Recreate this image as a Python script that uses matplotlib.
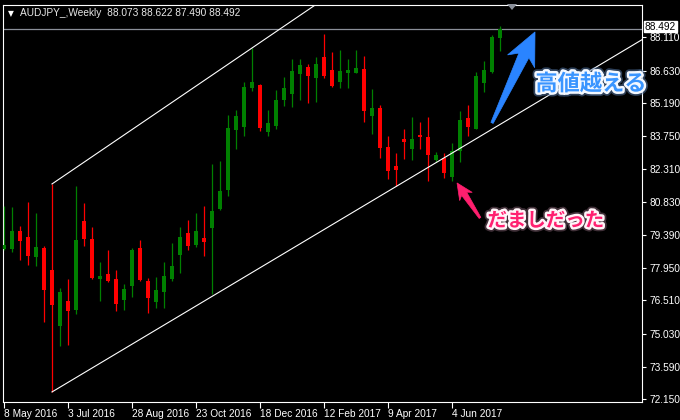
import matplotlib
matplotlib.use('Agg')
import matplotlib.pyplot as plt
import matplotlib.patheffects as pe
import matplotlib.transforms as mtransforms
from matplotlib.patches import Polygon
import numpy as np

# ---------------- data (weekly AUDJPY candles) ----------------
opens = [78.78, 78.78, 79.57, 79.31, 78.42, 78.82, 77.85, 75.38, 76.48, 76.09,
         80.01, 79.22, 77.45, 77.67, 77.45, 76.53, 77.15, 78.82, 77.37, 76.44,
         76.88, 77.45, 78.51, 79.48, 78.95, 79.26, 79.70, 80.54, 81.38, 84.02,
         84.15, 85.87, 86.01, 83.93, 84.20, 85.35, 85.61, 86.49, 86.80, 86.32,
         87.24, 86.67, 86.14, 86.54, 86.54, 86.71, 84.64, 84.99, 83.27, 82.44,
         83.63, 83.19, 83.80, 83.71, 82.70, 82.79, 81.95, 83.10, 84.55, 84.07,
         86.10, 86.58, 88.073]
highs = [80.67, 80.63, 79.79, 80.85, 80.36, 78.91, 81.64, 77.06, 77.45, 81.55,
         80.80, 79.75, 78.20, 78.73, 77.85, 77.23, 78.82, 79.17, 77.50, 77.54,
         78.20, 79.04, 79.75, 80.05, 80.36, 80.67, 82.52, 82.66, 84.68, 84.90,
         86.14, 87.64, 86.05, 84.90, 85.79, 86.36, 87.15, 87.15, 86.93, 87.24,
         88.26, 87.46, 87.55, 87.15, 87.55, 87.29, 85.83, 85.13, 83.76, 83.01,
         84.07, 84.60, 84.38, 84.60, 83.05, 83.01, 83.45, 84.86, 85.13, 86.58,
         87.07, 88.21, 88.622]
lows = [78.73, 78.64, 78.29, 78.07, 78.03, 75.56, 72.47, 74.50, 74.54, 75.91,
        78.91, 77.45, 76.48, 77.32, 76.04, 76.09, 76.66, 77.37, 75.95, 76.18,
        76.18, 77.37, 77.72, 78.73, 78.86, 78.47, 76.79, 80.50, 81.11, 83.19,
        83.76, 85.74, 83.98, 83.76, 84.07, 85.08, 85.04, 85.35, 85.21, 85.26,
        86.32, 85.92, 85.87, 85.87, 86.54, 84.38, 83.85, 82.79, 81.86, 81.55,
        82.74, 82.70, 83.19, 81.77, 82.61, 81.91, 81.77, 82.61, 83.76, 84.07,
        85.70, 86.54, 87.490]
closes = [78.95, 79.57, 79.13, 78.47, 78.86, 76.97, 76.31, 76.88, 76.04, 79.17,
          79.22, 77.50, 77.59, 77.37, 76.35, 77.01, 78.73, 77.41, 76.62, 76.97,
          77.59, 78.03, 79.31, 78.91, 79.57, 79.08, 80.45, 81.33, 84.11, 84.64,
          85.92, 86.14, 84.11, 84.33, 85.35, 85.87, 86.62, 86.89, 86.40, 86.93,
          86.40, 85.96, 86.62, 86.67, 86.76, 84.86, 84.99, 83.23, 82.22, 82.26,
          83.49, 83.63, 83.71, 82.92, 82.92, 82.13, 83.10, 84.46, 84.15, 86.40,
          86.67, 88.12, 88.492]

date_labels = ['8 May 2016', '3 Jul 2016', '28 Aug 2016', '23 Oct 2016',
               '18 Dec 2016', '12 Feb 2017', '9 Apr 2017', '4 Jun 2017']
date_label_idx = [0, 8, 16, 24, 32, 40, 48, 56]
price_ticks = [88.110, 86.630, 85.190, 83.750, 82.310, 80.830, 79.390,
               77.950, 76.510, 75.030, 73.590, 72.150]
bid_price = 88.492
title_text = 'AUDJPY_,Weekly  88.073 88.622 87.490 88.492'

anchor_idx = 6            # trend lines start at this candle
lower_slope = 0.2106      # price per week
upper_slope = 0.2398

label_up = '高値越える'
label_fake = 'だましだった'

# ---------------- figure ----------------
W, H = 680, 420
fig = plt.figure(figsize=(W / 100, H / 100), dpi=100, facecolor='black')
ax_l, ax_r, ax_t, ax_b = 3.3, 641.7, 5.0, 401.7
ax = fig.add_axes([ax_l / W, 1 - ax_b / H, (ax_r - ax_l) / W, (ax_b - ax_t) / H])
ax.set_facecolor('black')
ax.set_xlim(-0.0875, 79.71)
ax.set_ylim(72.04, 89.53)

font = ['Liberation Sans', 'DejaVu Sans']

# candles
x = np.arange(len(opens))
o = np.array(opens); c = np.array(closes); h = np.array(highs); l = np.array(lows)
up = c >= o
cols = np.where(up, '#008000', '#ff0000')
ax.vlines(x, l, h, colors=cols, linewidth=0.9, zorder=3)
body_bot = np.minimum(o, c)
body_h = np.maximum(np.abs(c - o), 0.05)
ax.bar(x, body_h, bottom=body_bot, width=0.62, color=cols, linewidth=0, zorder=4)

# bid line
ax.axhline(bid_price, color='#8a8f99', linewidth=0.9, zorder=2)

# trend lines (channel)
x_end = 79.71
y0_low = lows[anchor_idx]
y0_high = highs[anchor_idx]
ax.plot([anchor_idx, x_end], [y0_low, y0_low + lower_slope * (x_end - anchor_idx)],
        color='white', linewidth=0.8, zorder=5)
ax.plot([anchor_idx, x_end], [y0_high, y0_high + upper_slope * (x_end - anchor_idx)],
        color='white', linewidth=0.8, zorder=5)

# spines
for s in ax.spines.values():
    s.set_color('white')
    s.set_linewidth(0.8)

# y axis on right
ax.yaxis.tick_right()
ax.set_yticks(price_ticks)
ax.set_yticklabels(['%.3f' % v for v in price_ticks], fontfamily=font)
ax.tick_params(axis='y', colors='white', length=3, width=0.8, direction='out',
               labelsize=7.3, pad=2.5)
# x axis
ax.set_xticks(date_label_idx)
ax.set_xticklabels(date_labels, fontfamily=font)
for t in ax.get_xticklabels():
    t.set_horizontalalignment('left')
ax.tick_params(axis='x', colors='white', length=4, width=0.8, direction='out',
               labelsize=7.3, pad=1.5)

# bid label on price scale (nudged up slightly so the 88.110 label stays visible)
bid_tr = mtransforms.blended_transform_factory(ax.transAxes, ax.transData) + \
    mtransforms.ScaledTranslation(0, 2.0 / 100, fig.dpi_scale_trans)
ax.text(1.0 + 3.0 / (ax_r - ax_l), bid_price, '%.3f' % bid_price,
        transform=bid_tr,
        ha='left', va='center', fontsize=7.3, fontfamily=font, color='black',
        bbox=dict(boxstyle='square,pad=0.08', fc='white', ec='white'),
        clip_on=False, zorder=10)

# title
fig.text(7.5 / W, 1 - 13.5 / H, '▼', fontsize=5.5, color='white', va='center',
         ha='left', fontfamily=['DejaVu Sans'])
fig.text(20 / W, 1 - 13 / H, title_text, fontsize=7.3, color='#e8e8e8', va='center',
         ha='left', fontfamily=font)

# small shift marker at top
tri = Polygon([[507 / W, 1 - 4 / H], [517 / W, 1 - 4 / H], [512 / W, 1 - 10 / H]],
              closed=True, transform=fig.transFigure, facecolor='#8a8f99',
              edgecolor='none', zorder=10)
fig.add_artist(tri)


def px_to_data(px, py):
    xi = (px - 4.0) / 8.0
    yi = 89.754 - 0.044088 * py
    return xi, yi


def taper_arrow(tail, tip, w_tail, w_shaft, head_w, head_len, color):
    fig.canvas.draw()
    T = ax.transData
    p0 = np.array(T.transform(tail)); p1 = np.array(T.transform(tip))
    d = p1 - p0; L = np.hypot(*d); u = d / L; n = np.array([-u[1], u[0]])
    base = p1 - u * head_len
    barb = base - u * head_len * 0.25
    pts = [p0 + n * w_tail / 2, base + n * w_shaft / 2, barb + n * head_w / 2, p1,
           barb - n * head_w / 2, base - n * w_shaft / 2, p0 - n * w_tail / 2]
    poly = Polygon(pts, closed=True, transform=mtransforms.IdentityTransform(),
                   facecolor=color, edgecolor=color, linewidth=0.5, zorder=12)
    fig.add_artist(poly)


# blue arrow (breakout)
taper_arrow(px_to_data(492, 123), px_to_data(535, 32), 2.5, 11, 30, 26, '#2a84ff')
# pink arrow (false break)
taper_arrow(px_to_data(480, 218), px_to_data(457, 183), 2.0, 6, 15, 13, '#ff1f6e')

# annotation texts
bx, by = px_to_data(591, 84)
ax.text(bx, by, label_up, fontsize=16, fontweight='bold', color='#3a95ff',
        fontfamily=['Noto Sans CJK JP'], ha='center', va='center', clip_on=False,
        zorder=13,
        path_effects=[pe.Stroke(linewidth=6, foreground='#5a7fb0', alpha=0.5),
                      pe.Stroke(linewidth=3.5, foreground='#f4f8ff'), pe.Normal()])
px_, py_ = px_to_data(546, 221)
ax.text(px_, py_, label_fake, fontsize=14, fontweight='bold', color='#ff2070',
        fontfamily=['Noto Sans CJK JP'], ha='center', va='center', clip_on=False,
        zorder=13,
        path_effects=[pe.Stroke(linewidth=6, foreground='#806070', alpha=0.5),
                      pe.Stroke(linewidth=3.5, foreground='#fff4f8'), pe.Normal()])

fig.savefig('out.png', dpi=100, facecolor='black')
